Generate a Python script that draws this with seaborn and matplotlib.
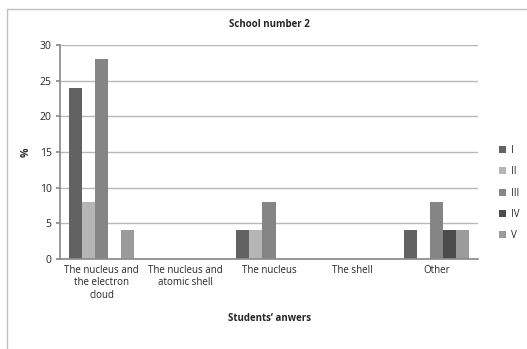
import matplotlib
matplotlib.use("Agg")
import matplotlib.pyplot as plt
import seaborn as sns
import pandas as pd
from matplotlib.patches import Rectangle

categories = ["The nucleus and\nthe electron\ncloud", "The nucleus and\natomic shell",
              "The nucleus", "The shell", "Other"]
series_names = ["I", "II", "III", "IV", "V"]
values_I = [24, 0, 4, 0, 4]
values_II = [8, 0, 4, 0, 0]
values_III = [28, 0, 8, 0, 8]
values_IV = [0, 0, 0, 0, 4]
values_V = [4, 0, 0, 0, 4]
yticks = [0, 5, 10, 15, 20, 25, 30]
colors = ["#626262", "#b5b5b5", "#858585", "#4b4b4b", "#9b9b9b"]

rows = []
for name, vals in zip(series_names, [values_I, values_II, values_III, values_IV, values_V]):
    for c, v in zip(categories, vals):
        rows.append({"cat": c, "series": name, "val": v})
df = pd.DataFrame(rows)

sns.set_theme(style="white")
plt.rcParams['font.family'] = ['Open Sans', 'DejaVu Sans']

fig = plt.figure(figsize=(5.27, 3.49), dpi=100)
ax = fig.add_axes([60/527, 1-259/349, (478-60)/527, (259-45)/349])
sns.barplot(data=df, x="cat", y="val", hue="series", palette=colors, order=categories,
            hue_order=series_names, width=0.78, saturation=1, ax=ax, legend=True,
            linewidth=0)

ax.set_ylim(0, 30)
ax.set_yticks(yticks)
ax.set_xlim(-0.5, 4.5)
ax.yaxis.grid(True, color="#b8b8b8", linewidth=1)
ax.set_axisbelow(True)
for s in ["top", "right"]:
    ax.spines[s].set_visible(False)
ax.spines["left"].set_color("#8c8c8c")
ax.spines["bottom"].set_color("#8c8c8c")
ax.tick_params(axis="y", length=3, color="#8c8c8c", labelsize=7.5, pad=3, left=True)
ax.tick_params(axis="x", length=0, labelsize=7, pad=4)
ax.set_xlabel("Students\u2019 anwers", fontsize=7, fontweight="bold", labelpad=9)
ax.set_ylabel("%", fontsize=7.5, fontweight="bold", labelpad=6)
ax.set_title("School number 2", fontsize=7, fontweight="bold", pad=13)

leg = ax.legend(loc="center left", frameon=False, fontsize=7, handlelength=0.7,
                handleheight=0.7, handletextpad=0.6, labelspacing=1.05)
leg.set_bbox_to_anchor((490/527, 1-193/349), transform=fig.transFigure)

fig.patches.append(Rectangle((7/527, -0.1), 1.2, 1 - 9/349 + 0.1, transform=fig.transFigure,
                             fill=False, edgecolor="#c0c0c0", linewidth=1))
fig.savefig("out.png", dpi=100)
